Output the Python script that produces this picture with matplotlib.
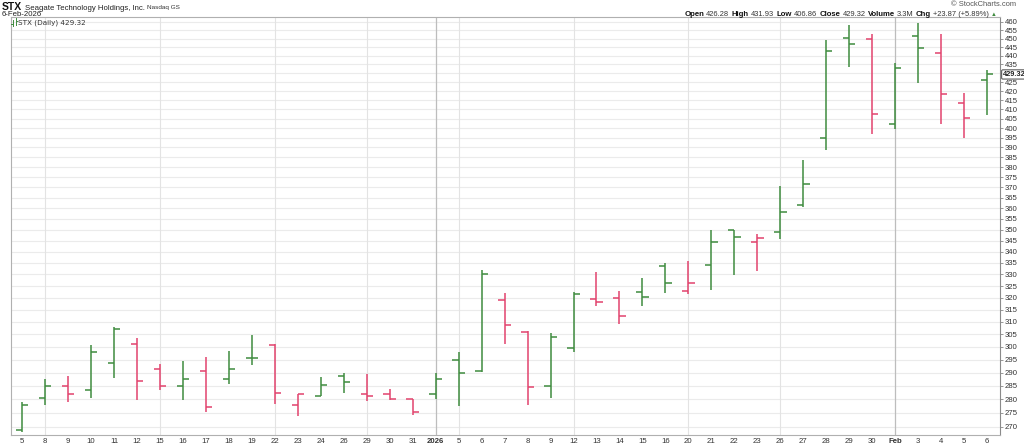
import matplotlib
matplotlib.use("Agg")
import matplotlib.pyplot as plt
from matplotlib.lines import Line2D
from matplotlib.ticker import FixedLocator, NullLocator, FuncFormatter
import numpy as np
import pandas as pd

plt.rcParams['font.family'] = ['Liberation Sans', 'DejaVu Sans']

# STX daily OHLC, 5-Dec-2025 .. 6-Feb-2026
dates = ['2025-12-05', '2025-12-08', '2025-12-09', '2025-12-10', '2025-12-11', '2025-12-12',
         '2025-12-15', '2025-12-16', '2025-12-17', '2025-12-18', '2025-12-19',
         '2025-12-22', '2025-12-23', '2025-12-24', '2025-12-26',
         '2025-12-29', '2025-12-30', '2025-12-31', '2026-01-02',
         '2026-01-05', '2026-01-06', '2026-01-07', '2026-01-08', '2026-01-09',
         '2026-01-12', '2026-01-13', '2026-01-14', '2026-01-15', '2026-01-16',
         '2026-01-20', '2026-01-21', '2026-01-22', '2026-01-23',
         '2026-01-26', '2026-01-27', '2026-01-28', '2026-01-29', '2026-01-30',
         '2026-02-02', '2026-02-03', '2026-02-04', '2026-02-05', '2026-02-06']
opens = [269.0, 280.4, 284.9, 283.5, 293.6, 301.1, 291.2, 284.8, 290.5, 287.7, 295.7,
         300.6, 277.9, 281.2, 288.9, 282.1, 282.1, 280.1, 282.0,
         295.0, 290.5, 318.9, 306.1, 284.8, 299.4, 319.4, 319.8, 322.6, 333.6,
         322.8, 334.3, 349.9, 344.5, 348.8, 361.4, 395.0, 450.2, 449.6,
         402.2, 451.6, 441.7, 413.3, 426.28]
highs = [279.0, 287.5, 288.7, 300.7, 308.1, 303.4, 293.3, 294.3, 296.0, 298.4, 304.7,
         301.1, 282.1, 288.4, 289.7, 289.5, 284.0, 280.1, 289.7,
         298.0, 331.9, 322.1, 306.4, 305.4, 322.6, 330.9, 322.8, 328.3, 334.9,
         336.0, 349.7, 349.9, 348.0, 370.7, 383.6, 449.2, 458.2, 452.8,
         436.0, 459.6, 453.0, 418.9, 431.93]
lows = [268.3, 277.9, 279.1, 280.6, 287.8, 279.7, 283.4, 279.7, 275.3, 285.8, 292.8,
        278.1, 273.8, 281.2, 282.3, 279.4, 279.7, 274.3, 280.2,
        277.6, 290.4, 301.2, 278.0, 280.6, 298.0, 316.6, 309.0, 316.6, 321.9,
        321.5, 323.3, 329.7, 331.5, 345.7, 360.8, 388.7, 433.7, 397.0,
        399.4, 424.3, 402.0, 394.7, 406.86]
closes = [278.0, 284.8, 282.0, 298.0, 307.0, 286.9, 284.8, 287.5, 277.3, 291.2, 295.5,
          282.3, 282.0, 285.2, 286.3, 281.2, 280.0, 275.3, 287.5,
          289.7, 330.2, 308.8, 284.4, 304.0, 321.4, 318.4, 312.4, 320.3, 326.4,
          326.1, 344.2, 346.5, 346.0, 358.1, 371.6, 442.6, 446.6, 407.4,
          432.8, 444.6, 418.6, 405.45, 429.32]
volume = '3.3M'
y_ticks = list(range(270, 461, 5))

W, H = 1024, 446
UP, DOWN = '#3f8c3f', '#e2436d'

d = pd.to_datetime(dates)
n = len(d)
labels, bold, week_lines, month_lines = [], [], [], []
for i in range(n):
    if i > 0 and d[i].year != d[i - 1].year:
        labels.append(str(d[i].year)); bold.append(True); month_lines.append(i)
    elif i > 0 and d[i].month != d[i - 1].month:
        labels.append(d[i].strftime('%b')); bold.append(True); month_lines.append(i)
    else:
        labels.append(str(d[i].day)); bold.append(False)
        if i > 0 and d[i].weekday() < d[i - 1].weekday():
            week_lines.append(i)

prev = [opens[0]] + closes[:-1]
colors = [UP if c >= p else DOWN for c, p in zip(closes, prev)]
last = closes[-1]

fig = plt.figure(figsize=(W / 100, H / 100), dpi=100)
ax = fig.add_axes([11 / W, 1 - 435 / H, 989 / W, 418 / H])

ax.set_yscale('log')
ax.set_ylim(267.15, 463.03)
ax.set_xlim(-0.48, 42.56)

# grid
for v in y_ticks:
    ax.axhline(v, color='#ebebeb', lw=0.8, zorder=0)
for i in week_lines:
    ax.axvline(i, color='#e3e3e3', lw=0.8, zorder=0)
for i in month_lines:
    ax.axvline(i, color='#bdbdbd', lw=0.9, zorder=0)

# OHLC bars
x = np.arange(n)
tk = 0.27
ax.vlines(x, lows, highs, colors=colors, lw=1.1, zorder=3)
ax.hlines(opens, x - tk, x, colors=colors, lw=1.1, zorder=3)
ax.hlines(closes, x, x + tk, colors=colors, lw=1.1, zorder=3)


def ylab(v, p):
    # the tick label hidden behind the last-price box is left out
    if abs(np.log(v / last)) < 0.008:
        return ''
    return '%d' % round(v)


# axes styling
ax.yaxis.tick_right()
ax.yaxis.set_major_locator(FixedLocator(y_ticks))
ax.yaxis.set_minor_locator(NullLocator())
ax.yaxis.set_major_formatter(FuncFormatter(ylab))
ax.tick_params(axis='y', length=2, width=0.6, color='#888888', pad=1.2,
               labelsize=5.6, labelcolor='#333333')
ax.set_xticks(x)
ax.set_xticklabels(labels)
ax.tick_params(axis='x', length=0, pad=2.5, labelsize=5.6, labelcolor='#333333')
for t, b in zip(ax.get_xticklabels(), bold):
    if b:
        t.set_fontweight('bold')
for s in ax.spines.values():
    s.set_color('#b0b0b0')
    s.set_linewidth(0.8)
ax.spines['right'].set_color('#8a8a8a')

# last price label
ax.annotate('%.2f' % last, xy=(1.0, last), xycoords=('axes fraction', 'data'),
            xytext=(2, 0), textcoords='offset points', ha='left', va='center',
            fontsize=5.3, fontweight='bold', color='#222222', annotation_clip=False,
            zorder=10,
            bbox=dict(boxstyle='round,pad=0.15', fc='white', ec='#444444', lw=0.7))

# header text
r = fig.canvas.get_renderer()


def row(parts, x0, y0, gap=2.0, right=None):
    # y0 is the baseline, in pixels from the top
    xx = x0
    texts = []
    for s, kw in parts:
        t = fig.text(xx / W, 1 - y0 / H, s, ha='left', va='baseline', **kw)
        texts.append(t)
        xx += t.get_window_extent(r).width + gap
    if right is not None:
        shift = (right - (xx - gap)) / W
        for t in texts:
            px, py = t.get_position()
            t.set_position((px + shift, py))
    return texts


row([('STX', dict(fontsize=7.5, fontweight='bold', color='#111111')),
     ('Seagate Technology Holdings, Inc.', dict(fontsize=5.6, color='#222222')),
     ('Nasdaq GS', dict(fontsize=4.6, color='#333333'))], 2, 9.5, gap=2.5)
fig.text(2 / W, 1 - 14 / H, d[-1].strftime('%-d-%b-%Y'), ha='left', va='center',
         fontsize=5.6, color='#222222')

chg = closes[-1] - closes[-2]
pct = chg / closes[-2] * 100
B = dict(fontsize=5.6, fontweight='bold', color='#111111')
N = dict(fontsize=5.4, color='#333333')
row([('Open', B), ('%.2f' % opens[-1], N), ('High', B), ('%.2f' % highs[-1], N),
     ('Low', B), ('%.2f' % lows[-1], N), ('Close', B), ('%.2f' % closes[-1], N),
     ('Volume', B), (volume, N), ('Chg', B), ('+%.2f (+%.2f%%)' % (chg, pct), N),
     ('\u25b2', dict(fontsize=4.2, color=UP))], 690, 16, gap=2.2, right=997)
fig.text(1016 / W, 1 - 4.5 / H, '\u00a9 StockCharts.com', ha='right', va='center',
         fontsize=5.4, color='#555555')

# legend inside chart
fig.text(18 / W, 1 - 22.5 / H, 'STX (Daily) %.2f' % last, ha='left', va='center',
         fontsize=5.2, color='#333333', family=['DejaVu Sans'])
for lx, y1, y2 in [(12.5, 20, 26), (15.5, 18, 25)]:
    fig.add_artist(Line2D([lx / W, lx / W], [1 - y1 / H, 1 - y2 / H], color=UP, lw=0.7))
fig.add_artist(Line2D([11 / W, 12.5 / W], [1 - 24 / H, 1 - 24 / H], color=UP, lw=0.7))
fig.add_artist(Line2D([15.5 / W, 17 / W], [1 - 21 / H, 1 - 21 / H], color=UP, lw=0.7))

fig.savefig('out.png', dpi=100, facecolor='white')
